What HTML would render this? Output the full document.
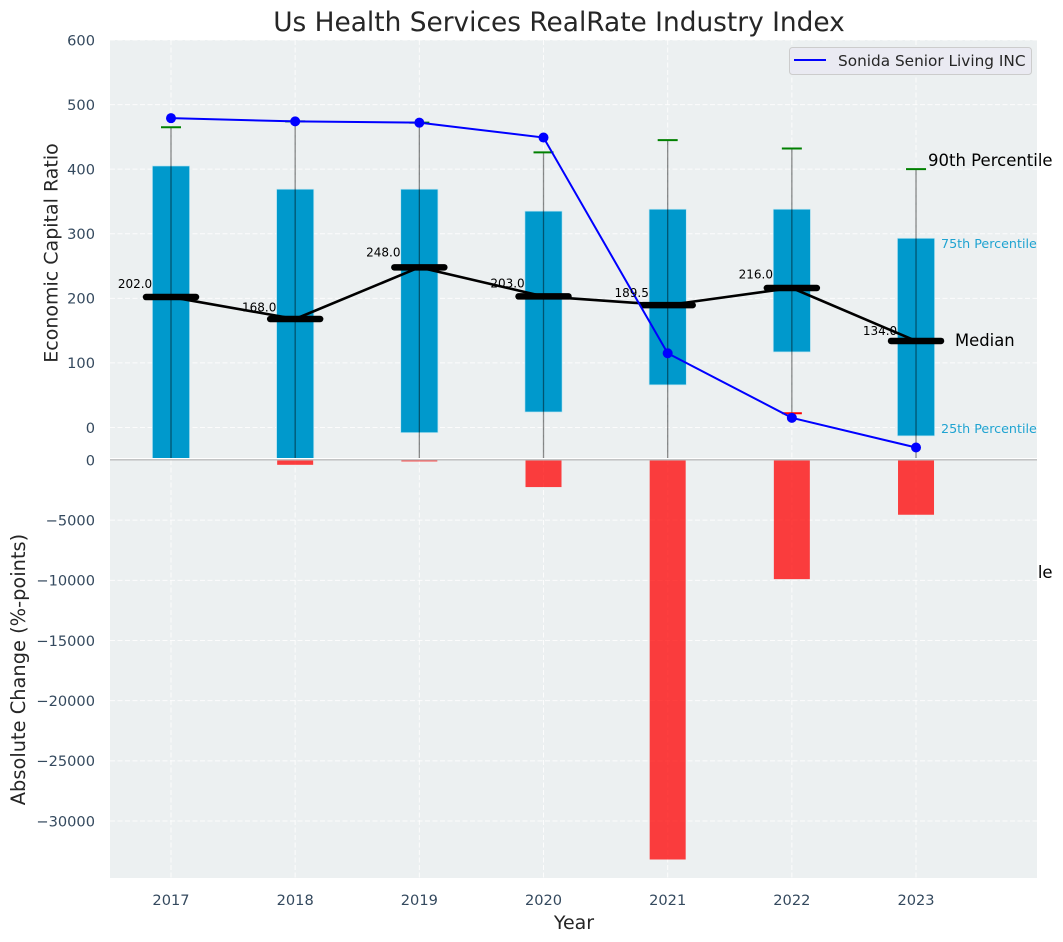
<!DOCTYPE html>
<html>
<head>
<meta charset="utf-8">
<title>Us Health Services RealRate Industry Index</title>
<style>
html,body{margin:0;padding:0;background:#fff;width:1063px;height:942px;overflow:hidden}
svg{display:block}
text{font-family:"DejaVu Sans","Liberation Sans",sans-serif}
</style>
</head>
<body>
<svg id="chart" xmlns="http://www.w3.org/2000/svg" width="1063" height="942" viewBox="0 0 1063 942"></svg>
<script>
const years = [2017, 2018, 2019, 2020, 2021, 2022, 2023];
const p90 = [465, 474, 472, 426, 445, 432, 400];
const p75 = [405, 369, 369, 335, 338, 338, 293];
const medians = [202, 168, 248, 203, 189.5, 216, 134];
const medianLabels = ['202.0', '168.0', '248.0', '203.0', '189.5', '216.0', '134.0'];
const p25 = [-60, -60, -8, 24, 66, 117, -13];
const p10 = [-120, -120, -100, -90, -80, 22, -90];
const companyValues = [479, 474, 472, 449, 115, 15, -31];
const absoluteChange = [0, -400, -120, -2250, -33200, -9900, -4550];
const topTicks = [0, 100, 200, 300, 400, 500, 600];
const bottomTicks = [0, -5000, -10000, -15000, -20000, -25000, -30000];

const NS = 'http://www.w3.org/2000/svg';
const svg = document.getElementById('chart');
const L = 110, R = 1037, TT = 40, TB = 458, BT = 460, BB = 878;
const xS = v => 171 + (v - 2017) * 124.17;
const yT = v => 427.5 - v * 0.6458;
const yB = v => 460 - v * 0.012033;

function el(tag, attrs, parent, txt) {
  const n = document.createElementNS(NS, tag);
  for (const k in attrs) n.setAttribute(k, attrs[k]);
  if (txt !== undefined) n.textContent = txt;
  (parent || svg).appendChild(n);
  return n;
}
function named(n, name, inter) {
  
  
  return n;
}

const defs = el('defs', {});
const cp1 = el('clipPath', {id: 'clip-top'}, defs);
el('rect', {x: L, y: TT, width: R - L, height: TB - TT}, cp1);
const cp2 = el('clipPath', {id: 'clip-bottom'}, defs);
el('rect', {x: L, y: BT, width: R - L, height: BB - BT}, cp2);

const gridStyle = {stroke: '#ffffff', 'stroke-width': 1, 'stroke-dasharray': '5 2.5', opacity: 0.85};

/* top panel */
const topPanel = el('g', {});
named(topPanel, 'top-panel', false);
named(el('rect', {x: L, y: TT, width: R - L, height: TB - TT, fill: '#ecf0f1'}, topPanel), 'top-panel-background', false);
const topClip = el('g', {'clip-path': 'url(#clip-top)'}, topPanel);
topTicks.forEach(t => {
  named(el('line', Object.assign({x1: L, x2: R, y1: yT(t), y2: yT(t)}, gridStyle), topClip), 'top-h-gridline', false);
});
years.forEach(y => {
  named(el('line', Object.assign({x1: xS(y), x2: xS(y), y1: TT, y2: TB}, gridStyle), topClip), 'top-v-gridline', false);
});
years.forEach((y, i) => {
  const bar = el('rect', {x: xS(y) - 18.6, y: yT(p75[i]), width: 37.2, height: yT(p25[i]) - yT(p75[i]), fill: '#0099cc', stroke: '#bfe6f2', 'stroke-width': 0.7}, topClip);
  named(bar, 'iqr-bar-' + y, false);
});
years.forEach((y, i) => {
  named(el('line', {x1: xS(y), x2: xS(y), y1: yT(p90[i]), y2: yT(p10[i]), stroke: '#000', 'stroke-opacity': 0.45, 'stroke-width': 1.3}, topClip), 'whisker-' + y, false);
  named(el('line', {x1: xS(y) - 10, x2: xS(y) + 10, y1: yT(p90[i]), y2: yT(p90[i]), stroke: '#008000', 'stroke-width': 2}, topClip), 'p90-cap-' + y, false);
  named(el('line', {x1: xS(y) - 10, x2: xS(y) + 10, y1: yT(p10[i]), y2: yT(p10[i]), stroke: '#ff0000', 'stroke-width': 2}, topClip), 'p10-cap-' + y, false);
});
named(el('polyline', {points: years.map((y, i) => xS(y) + ',' + yT(medians[i])).join(' '), fill: 'none', stroke: '#000', 'stroke-width': 2.6}, topClip), 'median-line', false);
years.forEach((y, i) => {
  named(el('line', {x1: xS(y) - 25, x2: xS(y) + 25, y1: yT(medians[i]), y2: yT(medians[i]), stroke: '#000', 'stroke-width': 6.5, 'stroke-linecap': 'round'}, topClip), 'median-marker-' + y, false);
});
named(el('polyline', {points: years.map((y, i) => xS(y) + ',' + yT(companyValues[i])).join(' '), fill: 'none', stroke: '#0000ff', 'stroke-width': 2}, topClip), 'company-line', false);
years.forEach((y, i) => {
  named(el('circle', {cx: xS(y), cy: yT(companyValues[i]), r: 5, fill: '#0000ff'}, topClip), 'company-point-' + y, false);
});
years.forEach((y, i) => {
  named(el('text', {x: xS(y) - 36, y: yT(medians[i] * 1.06) - 1, 'text-anchor': 'middle', 'font-size': 12, fill: '#000'}, topPanel, medianLabels[i]), 'median-label-' + y, false);
});
const lastX = xS(2023);
named(el('text', {x: lastX + 12, y: 166, 'font-size': 16.5, fill: '#000'}, topPanel, '90th Percentile'), 'p90-annotation', false);
named(el('text', {x: lastX + 39, y: 346, 'font-size': 16.4, fill: '#000'}, topPanel, 'Median'), 'median-annotation', false);
named(el('text', {x: lastX + 25, y: 248, 'font-size': 12.7, fill: '#1fa3d1'}, topPanel, '75th Percentile'), 'p75-annotation', false);
named(el('text', {x: lastX + 25, y: 433, 'font-size': 12.7, fill: '#1fa3d1'}, topPanel, '25th Percentile'), 'p25-annotation', false);
named(el('text', {x: lastX + 12, y: 578, 'font-size': 16.5, fill: '#000'}, topPanel, '10th Percentile'), 'p10-annotation', false);

/* legend */
const legend = el('g', {});
named(legend, 'legend', true);
named(el('rect', {x: 789.5, y: 47.5, width: 242, height: 27, rx: 3, fill: '#eaeaf2', stroke: '#cccccc', 'stroke-width': 1}, legend), 'legend-box', false);
named(el('line', {x1: 794, x2: 826, y1: 60, y2: 60, stroke: '#0000ff', 'stroke-width': 2}, legend), 'legend-swatch', false);
named(el('text', {x: 838, y: 66, 'font-size': 15.3, fill: '#262626'}, legend, 'Sonida Senior Living INC'), 'legend-entry', false);

/* bottom panel */
const bottomPanel = el('g', {});
named(bottomPanel, 'bottom-panel', false);
named(el('rect', {x: L, y: BT - 1, width: R - L, height: BB - BT + 1, fill: '#ecf0f1'}, bottomPanel), 'bottom-panel-background', false);
const botClip = el('g', {'clip-path': 'url(#clip-bottom)'}, bottomPanel);
bottomTicks.forEach(t => {
  if (t !== 0) named(el('line', Object.assign({x1: L, x2: R, y1: yB(t), y2: yB(t)}, gridStyle), botClip), 'bottom-h-gridline', false);
});
years.forEach(y => {
  named(el('line', Object.assign({x1: xS(y), x2: xS(y), y1: BT, y2: BB}, gridStyle), botClip), 'bottom-v-gridline', false);
});
years.forEach((y, i) => {
  if (absoluteChange[i] !== 0) {
    named(el('rect', {x: xS(y) - 18, y: yB(0), width: 36, height: yB(absoluteChange[i]) - yB(0), fill: '#ff0000', 'fill-opacity': 0.75}, botClip), 'change-bar-' + y, false);
  }
});
named(el('line', {x1: L, x2: R, y1: 459.8, y2: 459.8, stroke: '#bdbdbd', 'stroke-width': 1.3}, bottomPanel), 'zero-line', false);

/* axes text */
topTicks.forEach(t => {
  named(el('text', {x: 95, y: yT(t) + 5.3, 'text-anchor': 'end', 'font-size': 14.6, fill: '#34495e'}, svg, String(t)), 'top-y-tick-label', false);
});
bottomTicks.forEach(t => {
  named(el('text', {x: 95, y: yB(t) + 5.3, 'text-anchor': 'end', 'font-size': 14.6, fill: '#34495e'}, svg, String(t).replace('-', '\u2212')), 'bottom-y-tick-label', false);
});
years.forEach(y => {
  named(el('text', {x: xS(y), y: 905, 'text-anchor': 'middle', 'font-size': 14.6, fill: '#34495e'}, svg, String(y)), 'x-tick-label', false);
});
named(el('text', {x: 559, y: 31, 'text-anchor': 'middle', 'font-size': 26.4, fill: '#262626'}, svg, 'Us Health Services RealRate Industry Index'), 'chart-title', false);
named(el('text', {x: 574, y: 929, 'text-anchor': 'middle', 'font-size': 19, fill: '#262626'}, svg, 'Year'), 'x-axis-title', false);
named(el('text', {transform: 'translate(57.5,253) rotate(-90)', 'text-anchor': 'middle', 'font-size': 19, fill: '#262626'}, svg, 'Economic Capital Ratio'), 'top-y-axis-title', false);
named(el('text', {transform: 'translate(25,669.5) rotate(-90)', 'text-anchor': 'middle', 'font-size': 19.4, fill: '#262626'}, svg, 'Absolute Change (%-points)'), 'bottom-y-axis-title', false);
</script>
</body>
</html>
